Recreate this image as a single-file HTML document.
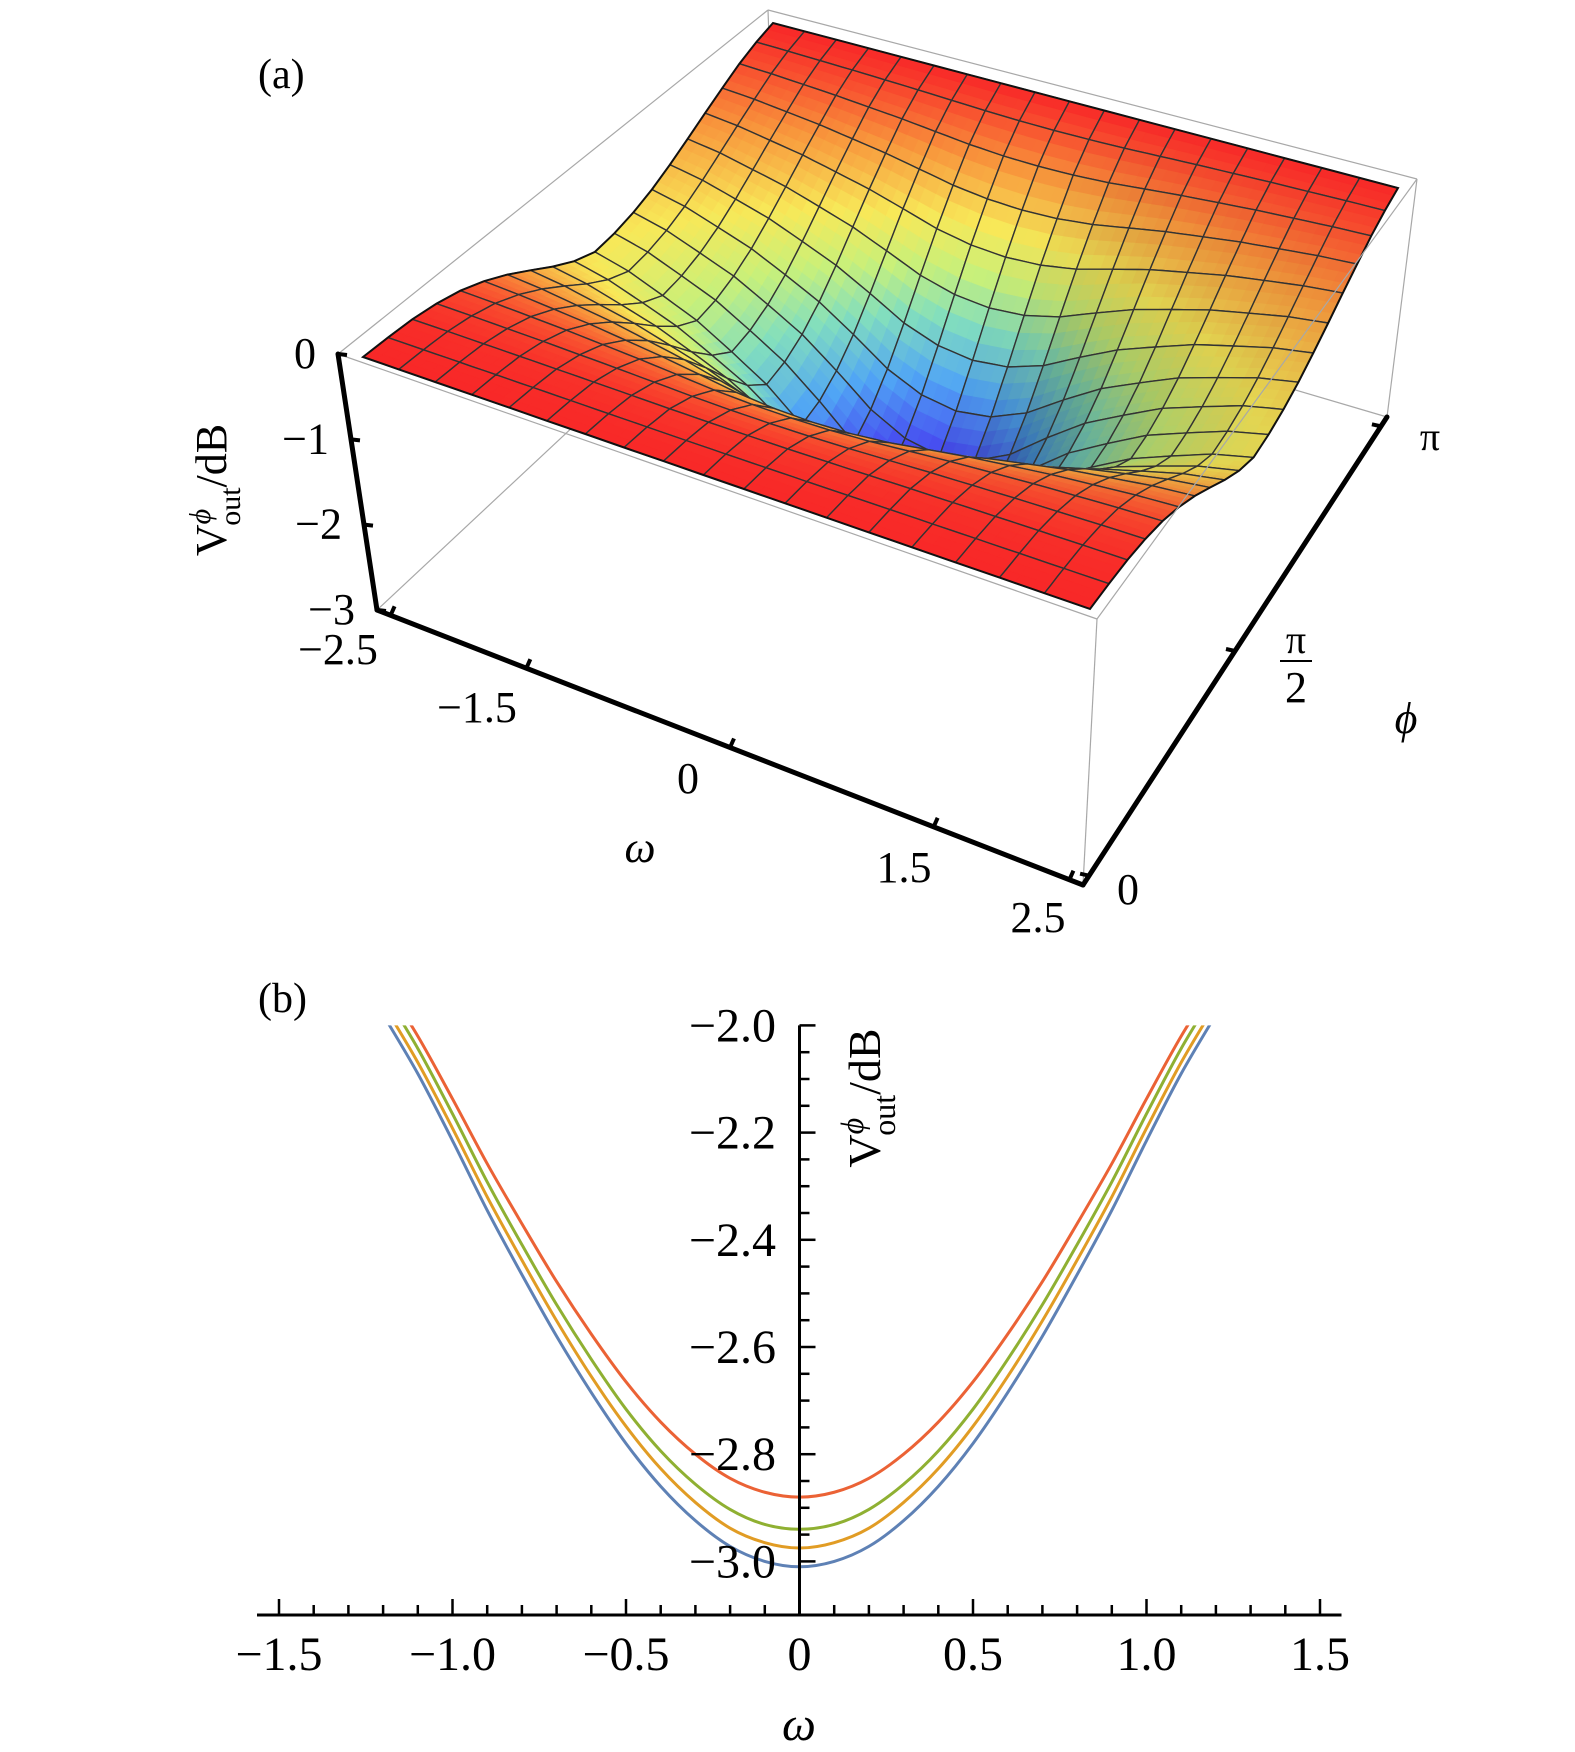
<!DOCTYPE html>
<html><head><meta charset="utf-8"><style>
html,body{margin:0;padding:0;background:#fff;}
svg{display:block;}
text{font-family:"Liberation Serif",serif;fill:#000;}
</style></head><body>
<svg id="fig" width="1575" height="1752" viewBox="0 0 1575 1752" xmlns="http://www.w3.org/2000/svg">
<g id="panelA">
  <g id="boxBack"></g>
  <g id="surface"></g>
  <g id="boxFront"></g>
  <g id="axesA"></g>
  <text x="258" y="88" font-size="42">(a)</text>
  <text transform="translate(226,490) rotate(-90)" font-size="44" text-anchor="middle">V<tspan font-style="italic" font-size="30" dy="-16">ϕ</tspan><tspan font-size="30" dx="-17" dy="30">out</tspan><tspan dy="-14">/dB</tspan></text>
  <text x="640" y="862" font-size="44" font-style="italic" text-anchor="middle">ω</text>
  <text x="1406" y="733" font-size="44" font-style="italic" text-anchor="middle">ϕ</text>
</g>
<g id="panelB">
  <text x="258" y="1012" font-size="42">(b)</text>
  <g id="curves"></g>
  <g id="axesB"></g>
  <text transform="translate(880,1098) rotate(-90)" font-size="46" text-anchor="middle">V<tspan font-style="italic" font-size="32" dy="-17">ϕ</tspan><tspan font-size="32" dx="-18" dy="32">out</tspan><tspan dy="-15">/dB</tspan></text>
  <text x="799" y="1740" font-size="48" font-style="italic" text-anchor="middle">ω</text>
</g>
</svg>
<script>
// ---------- Panel (b) data ----------
const omegaB = [-1.2,-1.1,-1.0,-0.9,-0.8,-0.7,-0.6,-0.5,-0.4,-0.3,-0.2,-0.1,0,0.1,0.2,0.3,0.4,0.5,0.6,0.7,0.8,0.9,1.0,1.1,1.2];
const blueVals   = [-1.980,-2.090,-2.215,-2.345,-2.465,-2.580,-2.685,-2.780,-2.860,-2.924,-2.972,-3.000,-3.010,-3.000,-2.972,-2.924,-2.860,-2.780,-2.685,-2.580,-2.465,-2.345,-2.215,-2.090,-1.980];
const yellowVals = [-1.960,-2.069,-2.192,-2.320,-2.438,-2.551,-2.655,-2.748,-2.827,-2.890,-2.938,-2.965,-2.975,-2.965,-2.938,-2.890,-2.827,-2.748,-2.655,-2.551,-2.438,-2.320,-2.192,-2.069,-1.960];
const greenVals  = [-1.936,-2.043,-2.165,-2.292,-2.409,-2.521,-2.623,-2.716,-2.794,-2.856,-2.903,-2.931,-2.940,-2.931,-2.903,-2.856,-2.794,-2.716,-2.623,-2.521,-2.409,-2.292,-2.165,-2.043,-1.936];
const redVals    = [-1.917,-2.020,-2.137,-2.258,-2.370,-2.478,-2.576,-2.665,-2.740,-2.800,-2.845,-2.871,-2.880,-2.871,-2.845,-2.800,-2.740,-2.665,-2.576,-2.478,-2.370,-2.258,-2.137,-2.020,-1.917];
const yTickVals = [-2.0,-2.2,-2.4,-2.6,-2.8,-3.0];
const yTickLabels = ["−2.0","−2.2","−2.4","−2.6","−2.8","−3.0"];
const xTickVals = [-1.5,-1.0,-0.5,0,0.5,1.0,1.5];
const xTickLabels = ["−1.5","−1.0","−0.5","0","0.5","1.0","1.5"];

// ---------- Panel (a) data ----------
const omegaGrid = [-2.5,-2.222,-1.944,-1.667,-1.389,-1.111,-0.833,-0.556,-0.278,0,0.278,0.556,0.833,1.111,1.389,1.667,1.944,2.222,2.5];
const depthOmega = [0.20,0.22,0.25,0.28,0.32,0.36,0.41,0.46,0.49,0.50,0.49,0.46,0.41,0.36,0.32,0.28,0.25,0.22,0.20];
const phiGrid = [0,0.05,0.1,0.15,0.2,0.25,0.3,0.35,0.4,0.45,0.5,0.55,0.6,0.65,0.7,0.75,0.8,0.85,0.9,0.95,1.0]; // in units of pi
const shapePhi = [0,0.01,0.03,0.08,0.16,0.28,0.43,0.60,0.77,0.91,1.0,0.98,0.93,0.85,0.74,0.61,0.47,0.33,0.19,0.08,0];
const zTickVals = [0,-1,-2,-3];
const zTickLabels = ["0","−1","−2","−3"];
const wTickVals = [-2.5,-1.5,0,1.5,2.5];
const wTickLabels = ["−2.5","−1.5","0","1.5","2.5"];
const pTickVals = [0,0.5,1];

const NS="http://www.w3.org/2000/svg";
function mk(tag,attrs,parent){const e=document.createElementNS(NS,tag);for(const k in attrs)e.setAttribute(k,attrs[k]);parent.appendChild(e);return e;}

// ===== Panel B =====
const X0=799.5, XS=347, Y0=1025.4, YS=536, XAXIS_Y=1615;
const xB=w=>X0+w*XS;
const yB=v=>Y0+(-2-v)*YS;
const axesB=document.getElementById('axesB');
let l=mk('line',{x1:257,y1:XAXIS_Y,x2:1341.5,y2:XAXIS_Y,stroke:'#000','stroke-width':3},axesB);


l=mk('line',{x1:X0,y1:yB(-2.0),x2:X0,y2:XAXIS_Y,stroke:'#000','stroke-width':3},axesB);


for(let k=0;k<=20;k++){
  const v=-2.0-k*0.05; const major=(k%4===0);
  const t=mk('line',{x1:X0,y1:yB(v),x2:X0+(major?16:10),y2:yB(v),stroke:'#000','stroke-width':2.5},axesB);
  
  
}
yTickVals.forEach((v,i)=>{
  const t=mk('text',{x:776,y:yB(v)+16,'font-size':48,'text-anchor':'end'},axesB);
  t.textContent=yTickLabels[i];
  
  
});
for(let k=-15;k<=15;k++){
  const w=k/10; const major=(k%5===0);
  const t=mk('line',{x1:xB(w),y1:XAXIS_Y,x2:xB(w),y2:XAXIS_Y-(major?16:10),stroke:'#000','stroke-width':2.5},axesB);
  
  
}
xTickVals.forEach((w,i)=>{
  const t=mk('text',{x:xB(w),y:1670,'font-size':48,'text-anchor':'middle'},axesB);
  t.textContent=xTickLabels[i];
  
  
});
const defs=mk('defs',{},document.getElementById('fig'));
const cp=mk('clipPath',{id:'clipB'},defs);
mk('rect',{x:200,y:yB(-2.0),width:1200,height:700},cp);
function crPath(xs,ys){
  const p=xs.map((x,i)=>[xB(x),yB(ys[i])]);
  let d='M'+p[0][0].toFixed(2)+','+p[0][1].toFixed(2);
  for(let i=0;i<p.length-1;i++){
    const p0=p[Math.max(0,i-1)],p1=p[i],p2=p[i+1],p3=p[Math.min(p.length-1,i+2)];
    const c1=[p1[0]+(p2[0]-p0[0])/6,p1[1]+(p2[1]-p0[1])/6];
    const c2=[p2[0]-(p3[0]-p1[0])/6,p2[1]-(p3[1]-p1[1])/6];
    d+='C'+c1[0].toFixed(2)+','+c1[1].toFixed(2)+' '+c2[0].toFixed(2)+','+c2[1].toFixed(2)+' '+p2[0].toFixed(2)+','+p2[1].toFixed(2);
  }
  return d;
}
const curvesG=document.getElementById('curves');
curvesG.setAttribute('clip-path','url(#clipB)');
const series=[[blueVals,'#5e81b5','curve-blue'],[yellowVals,'#e19c24','curve-yellow'],[greenVals,'#8fb032','curve-green'],[redVals,'#eb6235','curve-red']];
series.forEach(s=>{
  const p=mk('path',{d:crPath(omegaB,s[0]),fill:'none',stroke:s[1],'stroke-width':3},curvesG);
  
  
});

// ===== Panel A =====
const S00=[363,357],S10=[1090,609],S11=[1398,188],S01=[773,23];
const B00=[338,354],B10=[1097,619],B11=[1417,179],B01=[768,10];
const Q00=[377,610],Q10=[1083,885],Q11=[1387,417],Q01=[776,237];
const VP=[912,4132];
const F00=0.0678,F10=0.0757,F11=0.0602,F01=0.0551;
function homog(q0,q1,q2,q3){
  const dx1=q1[0]-q2[0],dx2=q3[0]-q2[0],dx3=q0[0]-q1[0]+q2[0]-q3[0];
  const dy1=q1[1]-q2[1],dy2=q3[1]-q2[1],dy3=q0[1]-q1[1]+q2[1]-q3[1];
  const den=dx1*dy2-dx2*dy1;
  const g=(dx3*dy2-dx2*dy3)/den,h=(dx1*dy3-dx3*dy1)/den;
  const a=q1[0]-q0[0]+g*q1[0],b=q3[0]-q0[0]+h*q3[0],c=q0[0];
  const d=q1[1]-q0[1]+g*q1[1],e=q3[1]-q0[1]+h*q3[1],f=q0[1];
  return (u,v)=>{const w=g*u+h*v+1;return [(a*u+b*v+c)/w,(d*u+e*v+f)/w];};
}
const Hs=homog(S00,S10,S11,S01);
function fr(u,v){return F00*(1-u)*(1-v)+F10*u*(1-v)+F11*u*v+F01*(1-u)*v;}
function proj(u,v,z){const P=Hs(u,v);const t=(-z/3)*fr(u,v);return [P[0]+t*(VP[0]-P[0]),P[1]+t*(VP[1]-P[1])];}
const NU=omegaGrid.length, NV=phiGrid.length;
const Z=[];
for(let i=0;i<NU;i++){Z.push([]);for(let j=0;j<NV;j++){Z[i].push(10*Math.log10(1-depthOmega[i]*shapePhi[j]));}}
const uOf=i=>(omegaGrid[i]-omegaGrid[0])/(omegaGrid[NU-1]-omegaGrid[0]);
const vOf=j=>(phiGrid[j]-phiGrid[0])/(phiGrid[NV-1]-phiGrid[0]);
const stops=[[0,[105,25,240]],[0.1,[70,70,240]],[0.26,[80,165,245]],[0.42,[130,222,190]],[0.55,[200,240,122]],[0.68,[248,232,88]],[0.84,[248,150,60]],[1,[248,40,40]]];
function colorAt(z,shade){
  let t=Math.max(0,Math.min(1,(z+3)/3));
  let k=0;while(k<stops.length-2&&t>stops[k+1][0])k++;
  const a=stops[k],b=stops[k+1];const s=(t-a[0])/(b[0]-a[0]);
  const c=a[1].map((x,n)=>Math.round((x+(b[1][n]-x)*s)*shade));
  return 'rgb('+c.join(',')+')';
}
const boxBack=document.getElementById('boxBack');
[[B00,B01],[B01,B11],[B01,Q01],[Q00,Q01],[Q01,Q11],[B11,Q11]].forEach(e=>{
  const ln=mk('line',{x1:e[0][0],y1:e[0][1],x2:e[1][0],y2:e[1][1],stroke:'#a8a8a8','stroke-width':1.2},boxBack);
  
  
});
const cells=[];
for(let i=0;i<NU-1;i++)for(let j=0;j<NV-1;j++){cells.push([i,j,1/fr((uOf(i)+uOf(i+1))/2,(vOf(j)+vOf(j+1))/2)]);}
cells.sort((a,b)=>b[2]-a[2]);
const surf=document.getElementById('surface');
const SUB=3;
cells.forEach(c=>{
  const i=c[0],j=c[1];
  const g=mk('g',{},surf);
  
  
  const u0=uOf(i),u1=uOf(i+1),v0=vOf(j),v1=vOf(j+1);
  const z00=Z[i][j],z10=Z[i+1][j],z11=Z[i+1][j+1],z01=Z[i][j+1];
  const zb=(a,b)=>z00*(1-a)*(1-b)+z10*a*(1-b)+z11*a*b+z01*(1-a)*b;
  const dzdu=((z10+z11)-(z00+z01))/2/(u1-u0);
  const shade=Math.max(0.62,1-0.045*Math.max(0,dzdu));
  const pt=(a,b)=>proj(u0+(u1-u0)*a,v0+(v1-v0)*b,zb(a,b));
  for(let a=0;a<SUB;a++)for(let b=0;b<SUB;b++){
    const a0=a/SUB,a1=(a+1)/SUB,b0=b/SUB,b1=(b+1)/SUB;
    const pts=[pt(a0,b0),pt(a1,b0),pt(a1,b1),pt(a0,b1)];
    const col=colorAt(zb((a0+a1)/2,(b0+b1)/2),shade);
    mk('polygon',{points:pts.map(p=>p[0].toFixed(1)+','+p[1].toFixed(1)).join(' '),fill:col,stroke:col,'stroke-width':0.8},g);
  }
  const outline=[];
  for(let k=0;k<=SUB;k++)outline.push(pt(k/SUB,0));
  for(let k=1;k<=SUB;k++)outline.push(pt(1,k/SUB));
  for(let k=SUB-1;k>=0;k--)outline.push(pt(k/SUB,1));
  for(let k=SUB-1;k>=1;k--)outline.push(pt(0,k/SUB));
  mk('polygon',{points:outline.map(p=>p[0].toFixed(1)+','+p[1].toFixed(1)).join(' '),fill:'none',stroke:'#333','stroke-width':1.4,'stroke-linejoin':'round'},g);
});
const edge=[];
for(let i=0;i<NU;i++)edge.push(proj(uOf(i),0,Z[i][0]));
for(let j=1;j<NV;j++)edge.push(proj(1,vOf(j),Z[NU-1][j]));
for(let i=NU-2;i>=0;i--)edge.push(proj(uOf(i),1,Z[i][NV-1]));
for(let j=NV-2;j>=1;j--)edge.push(proj(0,vOf(j),Z[0][j]));
const so=mk('polygon',{points:edge.map(p=>p[0].toFixed(1)+','+p[1].toFixed(1)).join(' '),fill:'none',stroke:'#111','stroke-width':2},surf);


const boxFront=document.getElementById('boxFront');
[[B00,B10],[B10,B11],[B10,Q10]].forEach(e=>{
  const ln=mk('line',{x1:e[0][0],y1:e[0][1],x2:e[1][0],y2:e[1][1],stroke:'#a8a8a8','stroke-width':1.2},boxFront);
  
  
});
const axA=document.getElementById('axesA');
const lerp=(p,q,t)=>[p[0]+(q[0]-p[0])*t,p[1]+(q[1]-p[1])*t];
[[B00,Q00,'z-axis-line'],[Q00,Q10,'omega-axis-line'],[Q10,Q11,'phi-axis-line']].forEach(e=>{
  const ln=mk('line',{x1:e[0][0],y1:e[0][1],x2:e[1][0],y2:e[1][1],stroke:'#000','stroke-width':5,'stroke-linecap':'round'},axA);
  
  
});
const zPos=z=>lerp(B00,Q00,-z/3);
zTickVals.forEach((z,i)=>{
  const p=zPos(z);
  const t=mk('line',{x1:p[0],y1:p[1],x2:p[0]+9,y2:p[1]+1,stroke:'#000','stroke-width':4},axA);
  
  
  const tx=mk('text',{x:p[0]-22,y:p[1]+14,'font-size':44,'text-anchor':'end'},axA);
  tx.textContent=zTickLabels[i];
  
  
});
const wPos=w=>lerp(Q00,Q10,(w+2.6)/5.2);
const wLabelPos=[[338,664],[477,722],[688,793],[904,882],[1038,932]];
wTickVals.forEach((w,i)=>{
  const p=wPos(w);
  const t=mk('line',{x1:p[0],y1:p[1],x2:p[0]+4,y2:p[1]-9,stroke:'#000','stroke-width':4},axA);
  
  
  const tx=mk('text',{x:wLabelPos[i][0],y:wLabelPos[i][1],'font-size':44,'text-anchor':'middle'},axA);
  tx.textContent=wTickLabels[i];
  
  
});
const pPos=p=>lerp(Q10,Q11,(p*0.96)+0.02);
pTickVals.forEach((pv,i)=>{
  const p=pPos(pv);
  const t=mk('line',{x1:p[0],y1:p[1],x2:p[0]-9,y2:p[1]-2,stroke:'#000','stroke-width':4},axA);
  
  
});
let tx=mk('text',{x:1128,y:904,'font-size':44,'text-anchor':'middle'},axA);
tx.textContent='0';


tx=mk('text',{x:1296,y:653,'font-size':40,'text-anchor':'middle'},axA);
tx.textContent='π';


l=mk('line',{x1:1280,y1:661,x2:1312,y2:661,stroke:'#000','stroke-width':2},axA);


tx=mk('text',{x:1296,y:702,'font-size':44,'text-anchor':'middle'},axA);
tx.textContent='2';


tx=mk('text',{x:1430,y:450,'font-size':40,'text-anchor':'middle'},axA);
tx.textContent='π';


</script>
</body></html>
